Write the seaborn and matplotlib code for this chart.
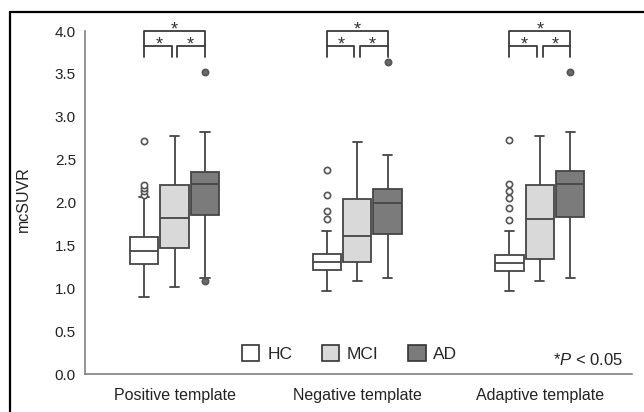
import matplotlib
matplotlib.use("Agg")
import matplotlib.pyplot as plt
from matplotlib.lines import Line2D
from matplotlib.patches import Patch
import pandas as pd
import seaborn as sns

## Data

templates = ["Positive template", "Negative template", "Adaptive template"]
groups = ["HC", "MCI", "AD"]

# box statistics per template, in group order HC, MCI, AD
q1 = {
    "Positive template": [1.285, 1.47, 1.86],
    "Negative template": [1.21, 1.31, 1.63],
    "Adaptive template": [1.20, 1.34, 1.83],
}
medians = {
    "Positive template": [1.44, 1.825, 2.215],
    "Negative template": [1.305, 1.61, 1.99],
    "Adaptive template": [1.29, 1.81, 2.22],
}
q3 = {
    "Positive template": [1.60, 2.20, 2.36],
    "Negative template": [1.40, 2.04, 2.157],
    "Adaptive template": [1.39, 2.20, 2.365],
}
whisker_lo = {
    "Positive template": [0.90, 1.01, 1.12],
    "Negative template": [0.97, 1.09, 1.12],
    "Adaptive template": [0.965, 1.09, 1.125],
}
whisker_hi = {
    "Positive template": [2.06, 2.78, 2.82],
    "Negative template": [1.67, 2.71, 2.55],
    "Adaptive template": [1.67, 2.78, 2.82],
}
outliers = {
    "Positive template": [[2.09, 2.13, 2.17, 2.21, 2.72], [], [1.09, 3.52]],
    "Negative template": [[1.81, 1.90, 2.09, 2.38], [], [3.64]],
    "Adaptive template": [[1.80, 1.94, 2.05, 2.14, 2.22, 2.73], [], [3.52]],
}

colors = {"HC": "#ffffff", "MCI": "#d9d9d9", "AD": "#7b7b7b"}
edge = "#454545"
spine_col = "#808080"


def box_sample(lo_q, med, hi_q, lo, hi, out):
    # 4k+1 values whose quartiles land exactly on lo_q / med / hi_q
    low = [lo] + [v for v in out if v < lo_q]
    high = [hi] + [v for v in out if v > hi_q]
    k = max(len(low), len(high))
    return (low + [lo_q] * (k - len(low)) + [lo_q] * k + [med] * k
            + [hi_q] + [hi_q] * (k - len(high)) + high)


rows = []
for t in templates:
    for j, g in enumerate(groups):
        vals = box_sample(q1[t][j], medians[t][j], q3[t][j],
                          whisker_lo[t][j], whisker_hi[t][j], outliers[t][j])
        rows += [(t, g, v) for v in vals]
df = pd.DataFrame(rows, columns=["template", "group", "mcSUVR"])

## Plot

sns.set_theme(style="white")
plt.rcParams["font.family"] = ["Liberation Sans", "DejaVu Sans"]
plt.rcParams["mathtext.fontset"] = "custom"
plt.rcParams["mathtext.it"] = "Liberation Sans:italic"
plt.rcParams["mathtext.rm"] = "Liberation Sans"

fig = plt.figure(figsize=(6.44, 4.12), dpi=100)
ax = fig.add_axes([0.132, 0.0922, 0.8494, 0.8325])

sns.boxplot(data=df, x="template", y="mcSUVR", hue="group",
            order=templates, hue_order=groups, palette=colors,
            width=0.5, gap=0.07, linecolor=edge, linewidth=1.3,
            fliersize=4.5, capwidths=0.05, legend=False, ax=ax)

# open circles for HC outliers, filled for AD
for line in ax.lines:
    xd = line.get_xdata()
    if line.get_marker() == "o" and len(xd):
        if xd[0] - round(xd[0]) > 0.05:
            line.set_markerfacecolor("#6a6a6a")
        else:
            line.set_markerfacecolor("white")
        line.set_markeredgecolor("#555555")
        line.set_markeredgewidth(1.2)

ax.set_ylim(0, 4.0)
ax.set_xlim(-0.49, 2.505)
ax.set_yticks([0, 0.5, 1.0, 1.5, 2.0, 2.5, 3.0, 3.5, 4.0])
ax.set_yticklabels([f"{v:.1f}" for v in ax.get_yticks()])
ax.set_xlabel("")
ax.set_ylabel("mcSUVR", fontsize=11.5, color="#222222")
ax.yaxis.set_label_coords(-0.098, 0.51)

sns.despine(ax=ax)
for s in ["left", "bottom"]:
    ax.spines[s].set_color(spine_col)
    ax.spines[s].set_linewidth(1.2)
ax.tick_params(axis="y", direction="in", length=4, width=1.1, color=spine_col,
               pad=6.5, labelsize=11, labelcolor="#222222")
ax.tick_params(axis="x", length=0, pad=10, labelsize=11.5, labelcolor="#222222")

# significance brackets
off = 0.5 / 3
for i in range(len(templates)):
    xl, xr = i - off, i + off
    kw = dict(color="#3a3a3a", lw=1.3, clip_on=False)
    ax.plot([xl, xl, xr, xr], [3.83, 4.0, 4.0, 3.83], **kw)
    ax.plot([xl, xl, i - 0.015, i - 0.015], [3.70, 3.83, 3.83, 3.70], **kw)
    ax.plot([i + 0.015, i + 0.015, xr, xr], [3.70, 3.83, 3.83, 3.70], **kw)
    for sx, sy in [(i, 3.955), (i - 0.085, 3.785), (i + 0.085, 3.785)]:
        ax.text(sx, sy, "*", ha="center", va="baseline", fontsize=13,
                color="#333333", clip_on=False)

handles = [Patch(facecolor=colors[g], edgecolor="#333333", linewidth=1.2, label=g)
           for g in groups]
ax.legend(handles=handles, ncol=3, frameon=False, loc="center",
          bbox_to_anchor=(0.484, 0.06), fontsize=12.5, handlelength=1.0,
          handleheight=1.0, handletextpad=0.45, columnspacing=1.7)

ax.text(0.983, 0.026, r"*$\it{P}$ < 0.05", transform=ax.transAxes,
        ha="right", va="baseline", fontsize=12, color="#222222")

# frame around the panel (top and left edges only)
fx, fy = 10 / 644, 1 - 12 / 412
fig.add_artist(Line2D([fx, 1], [fy, fy], transform=fig.transFigure, color="black", lw=1.6))
fig.add_artist(Line2D([fx, fx], [0, fy], transform=fig.transFigure, color="black", lw=1.6))

fig.savefig("out.png", dpi=100)
